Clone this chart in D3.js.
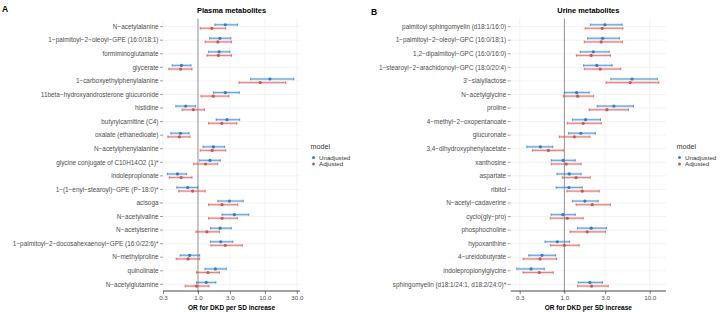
<!DOCTYPE html>
<meta charset="utf-8">
<style>
    body { margin: 0; background: #fff; }
    svg { font-family: "Liberation Sans", Arial, sans-serif; }
    .ylab { font-size: 6.4px; fill: #4d4d4d; }
    .xtick text { font-size: 6.2px; fill: #4d4d4d; }
    .ptitle { font-size: 7.4px; font-weight: bold; fill: #000; }
    .xtitle { font-size: 6.5px; font-weight: bold; fill: #000; }
    .tag { font-size: 8.5px; font-weight: bold; fill: #000; }
    .leg { font-size: 6.2px; fill: #333; }
    .legt { font-size: 7.2px; fill: #333; }
</style>
<svg id="chart" width="721" height="312"></svg>
<script src="https://cdn.jsdelivr.net/npm/d3@7"></script>
<script>

    // ---- data: [OR, lower, upper] per metabolite ----
    var plasmaNames = [
        "N−acetylalanine", "1−palmitoyl−2−oleoyl−GPE (16:0/18:1)", "formiminoglutamate", "glycerate",
        "1−carboxyethylphenylalanine", "11beta−hydroxyandrosterone glucuronide", "histidine",
        "butyrylcarnitine (C4)", "oxalate (ethanedioate)", "N−acetylphenylalanine",
        "glycine conjugate of C10H14O2 (1)*", "indolepropionate", "1−(1−enyl−stearoyl)−GPE (P−18:0)*",
        "acisoga", "N−acetylvaline", "N−acetylserine", "1−palmitoyl−2−docosahexaenoyl−GPE (16:0/22:6)*",
        "N−methylproline", "quinolinate", "N−acetylglutamine"
    ];
    var plasmaUnadj = [
        [2.56, 1.79, 3.9], [2.12, 1.49, 3.1], [2.07, 1.44, 3.0], [0.566, 0.412, 0.787],
        [11.9, 6.1, 27], [2.56, 1.70, 4.15], [0.655, 0.466, 0.92],
        [2.72, 1.87, 4.2], [0.547, 0.393, 0.736], [1.70, 1.19, 2.51],
        [1.51, 1.06, 2.16], [0.494, 0.347, 0.678], [0.701, 0.482, 0.986],
        [2.95, 1.98, 4.75], [3.5, 2.29, 5.75], [2.14, 1.54, 3.15], [2.19, 1.54, 3.32],
        [0.751, 0.541, 1.06], [1.82, 1.27, 2.65], [1.33, 0.953, 1.85]
    ];
    var plasmaAdj = [
        [1.61, 1.08, 2.6], [1.98, 1.28, 3.17], [2.02, 1.36, 3.17], [0.552, 0.367, 0.815],
        [8.5, 4.1, 20.5], [1.69, 1.11, 2.9], [0.852, 0.579, 1.25],
        [2.27, 1.44, 3.8], [0.528, 0.355, 0.76], [1.63, 1.08, 2.6],
        [1.30, 0.861, 1.98], [0.56, 0.372, 0.815], [0.832, 0.516, 1.28],
        [2.29, 1.44, 3.93], [2.29, 1.44, 3.88], [1.36, 0.934, 2.09], [2.56, 1.56, 4.6],
        [0.711, 0.472, 1.06], [1.41, 0.953, 2.09], [0.953, 0.642, 1.46]
    ];

    var urineNames = [
        "palmitoyl sphingomyelin (d18:1/16:0)", "1−palmitoyl−2−oleoyl−GPC (16:0/18:1)",
        "1,2−dipalmitoyl−GPC (16:0/16:0)", "1−stearoyl−2−arachidonoyl−GPC (18:0/20:4)",
        "3'−sialyllactose", "N−acetylglycine", "proline", "4−methyl−2−oxopentanoate", "glucuronate",
        "3,4−dihydroxyphenylacetate", "xanthosine", "aspartate", "ribitol", "N−acetyl−cadaverine",
        "cyclo(gly−pro)", "phosphocholine", "hypoxanthine", "4−ureidobutyrate",
        "indolepropionylglycine", "sphingomyelin (d18:1/24:1, d18:2/24:0)*"
    ];
    var urineUnadj = [
        [2.98, 2.01, 4.75], [2.80, 1.87, 4.43], [2.18, 1.53, 3.35], [2.40, 1.68, 3.63],
        [6.2, 3.5, 12.3], [1.39, 1.0, 1.95], [3.8, 2.42, 6.45], [1.77, 1.24, 2.65], [1.56, 1.12, 2.30],
        [0.523, 0.363, 0.73], [0.97, 0.703, 1.34], [1.14, 0.82, 1.57], [1.13, 0.80, 1.62], [1.74, 1.24, 2.49],
        [0.96, 0.70, 1.34], [2.06, 1.42, 3.12], [0.826, 0.593, 1.15], [0.547, 0.383, 0.791],
        [0.407, 0.277, 0.582], [1.99, 1.45, 2.80]
    ];
    var urineAdj = [
        [2.77, 1.75, 4.84], [2.70, 1.71, 4.80], [2.06, 1.38, 3.47], [2.63, 1.71, 4.58],
        [5.9, 3.09, 12.8], [1.43, 0.97, 2.20], [3.15, 1.95, 5.64], [1.66, 1.08, 2.70], [1.31, 0.871, 1.99],
        [0.649, 0.422, 0.97], [1.05, 0.70, 1.57], [1.37, 0.945, 2.01], [1.62, 1.07, 2.56], [2.12, 1.37, 3.47],
        [1.08, 0.684, 1.66], [1.85, 1.16, 3.04], [1.0, 0.684, 1.49], [0.519, 0.328, 0.813],
        [0.509, 0.328, 0.742], [2.08, 1.43, 3.26]
    ];

    var xTicks = [0.3, 1, 3, 10, 30];
    var models = ["Unadjusted", "Adjusted"];
    var colors = {Unadjusted: "#2a7fd0", Adjusted: "#d6524a"};

    var svg = d3.select("#chart");

    function drawPanel(opt) {
        var g = svg.append("g");
        var top = 18.5, bottom = 292.5;

        var x = d3.scaleLog().domain(opt.domain).range([opt.left, opt.right]);
        var y = d3.scalePoint().domain(opt.names).range([top, bottom]).padding(0.6);
        var ticks = xTicks.filter(t => t >= opt.domain[0] && t <= opt.domain[1]);

        // grid
        g.selectAll(".hgrid").data(opt.names).enter().append("line")
            .attr("x1", opt.left).attr("x2", opt.right)
            .attr("y1", d => y(d)).attr("y2", d => y(d))
            .attr("stroke", "#ebebeb").attr("stroke-width", 0.6);
        g.selectAll(".vgrid").data(ticks).enter().append("line")
            .attr("x1", d => x(d)).attr("x2", d => x(d))
            .attr("y1", top).attr("y2", bottom)
            .attr("stroke", "#ebebeb").attr("stroke-width", 0.6);

        // reference line at OR = 1
        g.append("line")
            .attr("x1", x(1)).attr("x2", x(1))
            .attr("y1", top).attr("y2", bottom)
            .attr("stroke", "#8a8a8a").attr("stroke-width", 0.9);

        // y labels + ticks
        g.selectAll(".ylab").data(opt.names).enter().append("text")
            .attr("class", "ylab")
            .attr("x", opt.left - 4.5).attr("y", d => y(d))
            .attr("dy", "0.35em").attr("text-anchor", "end")
            .text(d => d);
        g.selectAll(".ytick").data(opt.names).enter().append("line")
            .attr("x1", opt.left - 3).attr("x2", opt.left)
            .attr("y1", d => y(d)).attr("y2", d => y(d))
            .attr("stroke", "#444").attr("stroke-width", 0.5);

        // x axis
        var xAxis = d3.axisBottom(x).tickValues(ticks).tickFormat(d3.format(".1f")).tickSize(3).tickPadding(1.5);
        var ax = g.append("g").attr("class", "xtick")
            .attr("transform", "translate(0," + (bottom - 1.5) + ")")
            .call(xAxis);
        ax.select(".domain").attr("stroke", "#333").attr("stroke-width", 0.9)
            .attr("d", "M" + opt.left + ",0H" + opt.right);
        ax.selectAll(".tick line").attr("stroke", "#333").attr("stroke-width", 0.6);
        ax.selectAll("text").attr("font-family", null).attr("font-size", null);

        // CI bars
        var series = [
            {model: "Unadjusted", vals: opt.unadj, dy: -1.9},
            {model: "Adjusted", vals: opt.adj, dy: 1.7}
        ];
        series.forEach(function (s) {
            var c = colors[s.model];
            var sg = g.append("g");
            var rows = s.vals.map((v, i) => ({name: opt.names[i], or: v[0], lo: v[1], hi: v[2]}));
            sg.selectAll(".band").data(rows).enter().append("rect")
                .attr("x", d => x(d.lo)).attr("width", d => x(d.hi) - x(d.lo))
                .attr("y", d => y(d.name) + s.dy - 1.2).attr("height", 2.4)
                .attr("fill", c).attr("opacity", 0.28);
            sg.selectAll(".ci").data(rows).enter().append("line")
                .attr("x1", d => x(d.lo)).attr("x2", d => x(d.hi))
                .attr("y1", d => y(d.name) + s.dy).attr("y2", d => y(d.name) + s.dy)
                .attr("stroke", c).attr("stroke-width", 0.6);
            ["lo", "hi"].forEach(function (k) {
                sg.selectAll(".cap" + k).data(rows).enter().append("line")
                    .attr("x1", d => x(d[k])).attr("x2", d => x(d[k]))
                    .attr("y1", d => y(d.name) + s.dy - 1.3).attr("y2", d => y(d.name) + s.dy + 1.3)
                    .attr("stroke", c).attr("stroke-width", 0.7);
            });
            sg.selectAll(".pt").data(rows).enter().append("circle")
                .attr("cx", d => x(d.or)).attr("cy", d => y(d.name) + s.dy)
                .attr("r", 1.6).attr("fill", c);
        });

        // titles
        g.append("text").attr("class", "ptitle")
            .attr("x", (opt.left + opt.right) / 2).attr("y", 12.5)
            .attr("text-anchor", "middle").text(opt.title);
        g.append("text").attr("class", "xtitle")
            .attr("x", (opt.left + opt.right) / 2).attr("y", 310)
            .attr("text-anchor", "middle").text("OR for DKD per SD increase");
        g.append("text").attr("class", "tag")
            .attr("x", opt.tagX).attr("y", opt.tagY).text(opt.tag);

        // legend
        var lx = opt.right + 10.5;
        g.append("text").attr("class", "legt").attr("x", lx).attr("y", 149.2).text("model");
        models.forEach(function (m, i) {
            g.append("circle").attr("cx", lx + 3).attr("cy", 157.6 + i * 6.3)
                .attr("r", 1.5).attr("fill", colors[m]);
            g.append("text").attr("class", "leg")
                .attr("x", lx + 8.5).attr("y", 157.6 + i * 6.3).attr("dy", "0.35em").text(m);
        });
    }

    drawPanel({
        names: plasmaNames, unadj: plasmaUnadj, adj: plasmaAdj,
        domain: [0.3, 33.5], left: 163, right: 300,
        title: "Plasma metabolites", tag: "A", tagX: 2, tagY: 12
    });

    drawPanel({
        names: urineNames, unadj: urineUnadj, adj: urineAdj,
        domain: [0.235, 15.5], left: 510.7, right: 666,
        title: "Urine metabolites", tag: "B", tagX: 371, tagY: 15
    });

</script>
